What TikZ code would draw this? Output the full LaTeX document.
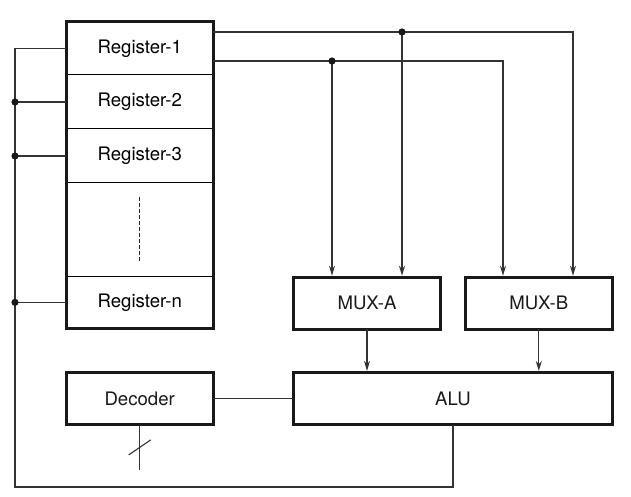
\documentclass[tikz,border=0pt]{standalone}
\usepackage{fontspec}
\setmainfont{TeX Gyre Heros}
\usetikzlibrary{arrows.meta}

\begin{document}
\begin{tikzpicture}[
  x=0.5pt, y=-0.5pt,
  >={Stealth[length=5pt,width=3pt]},
  wire/.style={black!80, line width=0.55pt},
  frame/.style={draw, line width=1.65pt, black!90},
  block/.style={frame, minimum width=73.5pt, minimum height=26pt, inner sep=0pt, outer sep=0pt},
  cell/.style={draw, line width=0.5pt, minimum width=73.5pt, inner sep=0pt, outer sep=0pt},
  dotsline/.style={black!85, line width=0.5pt, dash pattern=on 2pt off 1pt},
  every node/.style={font=\fontsize{9.3pt}{11pt}\selectfont}
]
  % picture units are the pixels of the 631x497 layout
  \useasboundingbox (0,0) rectangle (631,497);

  % register file
  \node[cell, minimum height=26.65pt] (reg1) at (139.8,48.35) {Register-1};
  \node[cell, minimum height=27pt] (reg2) at (139.8,102) {Register-2};
  \node[cell, minimum height=27pt] (reg3) at (139.8,156) {Register-3};
  \node[cell, minimum height=46.5pt] (regdots) at (139.8,229.5) {};
  \node[cell, minimum height=26.35pt] (regn) at (139.8,302.35) {Register-n};
  \draw[frame] (reg1.north west) rectangle (regn.south east);
  \draw[dotsline] ([yshift=-7pt]regdots.north) -- ([yshift=7pt]regdots.south);

  \node[block] (muxa) at (367,303.3) {MUX-A};
  \node[block] (muxb) at (538.8,303.3) {MUX-B};
  \node[block, minimum width=159.7pt] (alu) at (453,398.5) {ALU};
  \node[block] (dec) at (139.7,398.8) {Decoder};

  % read buses to the multiplexers
  \coordinate (ja) at (402,32);
  \coordinate (ka) at (573,32);
  \coordinate (jb) at (332,61);
  \coordinate (kb) at (503,61);
  \draw[wire, ->, shorten >=0.8pt] (reg1.east |- ja) -- (ka) -- (ka |- muxb.north);
  \draw[wire, ->, shorten >=0.8pt] (reg1.east |- jb) -- (kb) -- (kb |- muxb.north);
  \draw[wire, ->, shorten >=0.8pt] (ja) -- (ja |- muxa.north);
  \draw[wire, ->, shorten >=0.8pt] (jb) -- (jb |- muxa.north);
  \fill[black!90] (ja) circle (1.8pt) (jb) circle (1.8pt);

  \draw[wire, ->, shorten >=0.8pt] (muxa.south) -- (muxa.south |- alu.north);
  \draw[wire, ->, shorten >=0.8pt] (muxb.south) -- (muxb.south |- alu.north);
  \draw[wire] (dec.east) -- (alu.west |- dec.east);

  % write-back bus
  \coordinate (fb) at (15,487);
  \draw[wire] (alu.south) |- (fb) |- (reg1.west);
  \foreach \r in {reg2,reg3,regn} {
    \draw[wire] (fb |- \r.west) -- (\r.west);
    \fill[black!90] (fb |- \r.west) circle (1.8pt);
  }

  % decoder input
  \coordinate (din) at (139.7,470);
  \draw[wire] (dec.south) -- (din) coordinate[pos=0.5] (slash);
  \draw[wire] ([shift={(-11,7.5)}]slash) -- ([shift={(11,-7.5)}]slash);
\end{tikzpicture}
\end{document}
